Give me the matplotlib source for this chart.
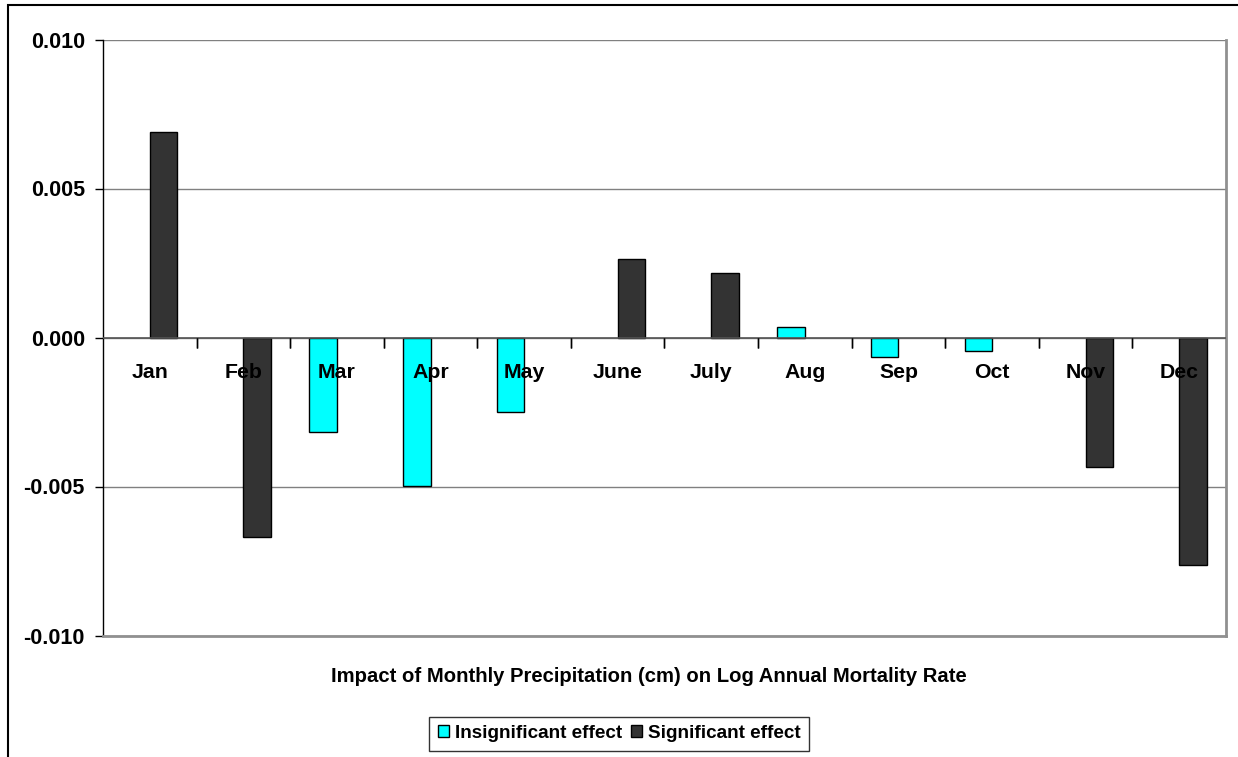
import numpy as np
import matplotlib
matplotlib.use("Agg")
import matplotlib.pyplot as plt
from matplotlib.patches import Rectangle

plt.rcParams['font.family'] = ['Liberation Sans', 'DejaVu Sans']
plt.rcParams['font.weight'] = 'bold'

months = ['Jan', 'Feb', 'Mar', 'Apr', 'May', 'June', 'July', 'Aug', 'Sep', 'Oct', 'Nov', 'Dec']
# effect per month, nan where the month belongs to the other series
insignificant = [np.nan, np.nan, -0.00318, -0.00498, -0.00249, np.nan, np.nan,
                 0.000345, -0.00064, -0.00044, np.nan, np.nan]
significant = [0.00688, -0.00671, np.nan, np.nan, np.nan, 0.00265, 0.00217,
               np.nan, np.nan, np.nan, -0.00436, -0.00764]
yticks = [-0.010, -0.005, 0.0, 0.005, 0.010]
title = 'Impact of Monthly Precipitation (cm) on Log Annual Mortality Rate'

fig = plt.figure(figsize=(12.38, 7.57), dpi=100)
ax = fig.add_axes([103 / 1238, 1 - 635.5 / 757, (1226 - 103) / 1238, (635.5 - 39.5) / 757])

x = np.arange(len(months))
w = 0.294
ax.bar(x - w / 2, insignificant, w, color='#00FFFF', edgecolor='black', linewidth=1,
       label='Insignificant effect', zorder=3)
ax.bar(x + w / 2, significant, w, color='#333333', edgecolor='black', linewidth=1,
       label='Significant effect', zorder=3)

ax.set_xlim(-0.5, len(months) - 0.5)
ax.set_ylim(-0.010, 0.010)
ax.set_yticks(yticks)
ax.set_yticklabels([f'{v:.3f}' for v in yticks], fontsize=15.5, fontweight='bold')
ax.tick_params(axis='y', length=6, width=1, pad=7, color='black', direction='out')
ax.set_xticks([])

for v in yticks:
    ax.axhline(v, color='#808080', lw=1, zorder=1)

# zero axis with category tick marks
ax.axhline(0, color='#555555', lw=1.2, zorder=4)
for b in np.arange(0.5, len(months) - 0.5, 1.0):
    ax.plot([b, b], [0, 0], marker=3, markersize=7, color='black', mew=1, zorder=4)

for i, m in enumerate(months):
    ax.annotate(m, (i, 0), xytext=(0, -25), textcoords='offset points',
                ha='center', va='center', fontsize=15.3, fontweight='bold', zorder=6)

ax.spines['left'].set_color('black')
ax.spines['left'].set_linewidth(1)
ax.spines['top'].set_visible(False)
for s in ['right', 'bottom']:
    ax.spines[s].set_color('#909090')
    ax.spines[s].set_linewidth(2)

fig.text(649 / 1238, 1 - 676 / 757, title, ha='center', va='center',
         fontsize=14.6, fontweight='bold')

leg = fig.legend(loc='center', bbox_to_anchor=(619 / 1238, 1 - 733.5 / 757), ncol=2,
                 frameon=True, fancybox=False, edgecolor='black', fontsize=13.6,
                 handlelength=0.58, handleheight=0.58, handletextpad=0.32,
                 columnspacing=0.48, borderpad=0.45, borderaxespad=0)
leg.get_frame().set_linewidth(1)

fig.patches.append(Rectangle((8 / 1238, -0.1), 1.2, 1.1 - 5 / 757, transform=fig.transFigure,
                             fill=False, edgecolor='black', lw=1.5))

fig.savefig('out.png', dpi=100)
